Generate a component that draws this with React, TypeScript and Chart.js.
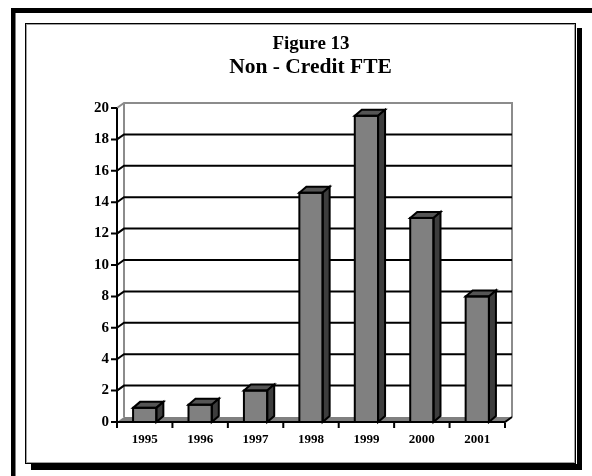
import React, { useEffect, useRef } from 'react';
import { Chart, registerables } from 'chart.js';

Chart.register(...registerables);

const CATEGORIES = ['1995', '1996', '1997', '1998', '1999', '2000', '2001'];
const FTE_VALUES = [0.9, 1.1, 2.0, 14.6, 19.5, 13.0, 8.0];
const Y_MIN = 0;
const Y_MAX = 20;
const Y_STEP = 2;
const FIGURE_LABEL = 'Figure 13';
const CHART_TITLE = 'Non - Credit FTE';

const SERIF = "'Liberation Serif', 'Times New Roman', serif";
const WALL_DX = 7;
const WALL_DY = 5;
const BAR_DX = 7;
const BAR_DY = 6;

const framePlugin = {
  id: 'frame',
  beforeDraw(chart: any) {
    const ctx = chart.ctx;
    ctx.save();
    ctx.fillStyle = '#ffffff';
    ctx.fillRect(0, 0, chart.width, chart.height);
    ctx.fillStyle = '#000000';
    // page rules (top and left)
    ctx.fillRect(11, 8, 581, 5);
    ctx.fillRect(11, 8, 4.5, 468);
    // drop shadow of the chart box
    ctx.fillRect(577, 28, 5, 442);
    ctx.fillRect(31, 464, 551, 6);
    // chart box border
    ctx.lineWidth = 1;
    ctx.strokeStyle = '#000000';
    ctx.strokeRect(25.5, 23.5, 550, 440);
    ctx.strokeStyle = '#a0a0a0';
    ctx.strokeRect(26.5, 24.5, 548, 438);
    ctx.restore();
  },
  afterDraw(chart: any) {
    const ctx = chart.ctx;
    ctx.save();
    ctx.fillStyle = '#000000';
    ctx.textAlign = 'center';
    ctx.textBaseline = 'alphabetic';
    ctx.font = `bold 19px ${SERIF}`;
    ctx.fillText(FIGURE_LABEL, 311, 48.5);
    ctx.font = `bold 21.5px ${SERIF}`;
    ctx.fillText(CHART_TITLE, 310.5, 72.5);
    ctx.restore();
  },
};

const threeDPlugin = {
  id: 'threeD',
  beforeDatasetsDraw(chart: any) {
    const ctx = chart.ctx;
    const { left: L, right: R, top: T, bottom: B } = chart.chartArea;
    const yScale = chart.scales.y;
    const xScale = chart.scales.x;
    ctx.save();
    // back wall
    ctx.fillStyle = '#ffffff';
    ctx.fillRect(L + WALL_DX, T - WALL_DY, R - L, B - T);
    // floor
    ctx.fillStyle = '#808080';
    ctx.beginPath();
    ctx.moveTo(L, B);
    ctx.lineTo(R, B);
    ctx.lineTo(R + WALL_DX, B - WALL_DY);
    ctx.lineTo(L + WALL_DX, B - WALL_DY);
    ctx.closePath();
    ctx.fill();
    // wall edges (gray)
    ctx.strokeStyle = '#8c8c8c';
    ctx.lineWidth = 2;
    ctx.beginPath();
    ctx.moveTo(L, T);
    ctx.lineTo(L + WALL_DX, T - WALL_DY);
    ctx.lineTo(R + WALL_DX, T - WALL_DY);
    ctx.lineTo(R + WALL_DX, B - WALL_DY);
    ctx.moveTo(L + WALL_DX, T - WALL_DY);
    ctx.lineTo(L + WALL_DX, B - WALL_DY);
    ctx.stroke();
    // gridlines (black)
    ctx.strokeStyle = '#000000';
    ctx.lineWidth = 2;
    for (let v = Y_MIN + Y_STEP; v < Y_MAX; v += Y_STEP) {
      const y = yScale.getPixelForValue(v);
      ctx.beginPath();
      ctx.moveTo(L, y);
      ctx.lineTo(L + WALL_DX, y - WALL_DY);
      ctx.lineTo(R + WALL_DX, y - WALL_DY);
      ctx.stroke();
    }
    // value axis and ticks
    ctx.beginPath();
    ctx.moveTo(L, T);
    ctx.lineTo(L, B + 1);
    for (let v = Y_MIN; v <= Y_MAX; v += Y_STEP) {
      const y = yScale.getPixelForValue(v);
      ctx.moveTo(L - 6, y);
      ctx.lineTo(L, y);
    }
    ctx.stroke();
    // category axis, right floor edge and ticks
    ctx.beginPath();
    ctx.moveTo(L, B);
    ctx.lineTo(R, B);
    ctx.lineTo(R + WALL_DX, B - WALL_DY);
    const n = CATEGORIES.length;
    for (let i = 0; i <= n; i++) {
      const x = L + ((R - L) * i) / n;
      ctx.moveTo(x, B);
      ctx.lineTo(x, B + 6);
    }
    ctx.stroke();
    ctx.restore();
  },
  afterDatasetsDraw(chart: any) {
    const ctx = chart.ctx;
    const meta = chart.getDatasetMeta(0);
    ctx.save();
    ctx.strokeStyle = '#000000';
    ctx.lineWidth = 2;
    ctx.lineJoin = 'miter';
    meta.data.forEach((bar: any) => {
      const { x, y, base, width } = bar.getProps(['x', 'y', 'base', 'width'], true);
      const l = x - width / 2;
      const r = x + width / 2;
      // top face
      ctx.fillStyle = '#555555';
      ctx.beginPath();
      ctx.moveTo(l, y);
      ctx.lineTo(l + BAR_DX, y - BAR_DY);
      ctx.lineTo(r + BAR_DX, y - BAR_DY);
      ctx.lineTo(r, y);
      ctx.closePath();
      ctx.fill();
      ctx.stroke();
      // side face
      ctx.fillStyle = '#3d3d3d';
      ctx.beginPath();
      ctx.moveTo(r, y);
      ctx.lineTo(r + BAR_DX, y - BAR_DY);
      ctx.lineTo(r + BAR_DX, base - BAR_DY);
      ctx.lineTo(r, base);
      ctx.closePath();
      ctx.fill();
      ctx.stroke();
      // front outline
      ctx.strokeRect(l, y, width, base - y);
    });
    ctx.restore();
  },
};

export default function App() {
  const canvasRef = useRef<HTMLCanvasElement | null>(null);

  useEffect(() => {
    const canvas = canvasRef.current;
    if (!canvas) return;
    const chart = new Chart(canvas, {
      type: 'bar',
      data: {
        labels: CATEGORIES,
        datasets: [
          {
            label: CHART_TITLE,
            data: FTE_VALUES,
            backgroundColor: '#808080',
            borderColor: '#000000',
            borderWidth: 0,
            categoryPercentage: 1,
            barPercentage: 0.42,
          },
        ],
      },
      options: {
        responsive: false,
        animation: false,
        devicePixelRatio: 1,
        layout: { padding: { left: 0, right: 87, top: 108, bottom: 14 } },
        plugins: {
          legend: { display: false },
          title: { display: false },
          tooltip: { enabled: false },
        },
        scales: {
          x: {
            grid: { display: false, drawTicks: false },
            border: { display: false },
            ticks: {
              color: '#000000',
              padding: 10,
              font: { family: SERIF, size: 13, weight: 'bold' },
              maxRotation: 0,
            },
            afterFit(scale: any) {
              scale.height = 40;
            },
          },
          y: {
            min: Y_MIN,
            max: Y_MAX,
            grid: { display: false, drawTicks: false },
            border: { display: false },
            ticks: {
              stepSize: Y_STEP,
              color: '#000000',
              padding: 8,
              font: { family: SERIF, size: 15, weight: 'bold' },
            },
            afterFit(scale: any) {
              scale.width = 117;
            },
          },
        },
      },
      plugins: [framePlugin, threeDPlugin],
    });
    return () => chart.destroy();
  }, []);

  return (
    <div style={{ position: 'absolute', left: 0, top: 0, width: 592, height: 476 }}>
      <canvas ref={canvasRef} width={592} height={476} style={{ display: 'block' }} />
    </div>
  );
}
